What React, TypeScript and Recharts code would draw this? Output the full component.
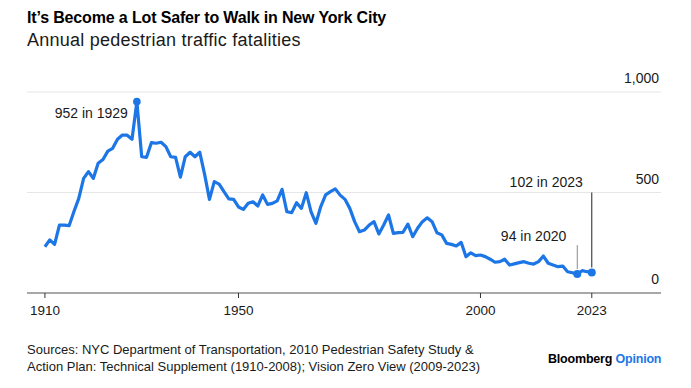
import { CartesianGrid, Line, LineChart, XAxis, YAxis } from "recharts";

// Annual pedestrian traffic fatalities in NYC, one array per decade
const FIRST_YEAR = 1910;
const fatalities1910s = [230, 264, 242, 338, 338, 335, 405, 471, 570, 604];
const fatalities1920s = [570, 645, 664, 706, 720, 765, 786, 785, 765, 952];
const fatalities1930s = [678, 675, 748, 745, 750, 728, 678, 675, 576, 678];
const fatalities1940s = [700, 678, 700, 590, 466, 554, 542, 504, 468, 466];
const fatalities1950s = [428, 416, 446, 454, 433, 488, 441, 446, 458, 516];
const fatalities1960s = [404, 400, 449, 421, 499, 404, 347, 430, 488, 504];
const fatalities1970s = [518, 487, 466, 421, 355, 305, 313, 338, 355, 294];
const fatalities1980s = [338, 388, 297, 300, 302, 343, 280, 322, 355, 374];
const fatalities1990s = [355, 300, 289, 247, 242, 234, 252, 181, 200, 186];
const fatalities2000s = [189, 181, 168, 153, 156, 168, 139, 145, 151, 156];
const fatalities2010s = [148, 144, 156, 184, 148, 139, 131, 134, 106, 101];
const fatalities2020s = [94, 111, 106, 102];

const yearTicks = [1910, 1950, 2000, 2023];
const valueTicks = [0, 500, 1000];
const notes = [
  { year: 1929, label: "952 in 1929" },
  { year: 2020, label: "94 in 2020" },
  { year: 2023, label: "102 in 2023" },
];

const allValues = [
  ...fatalities1910s, ...fatalities1920s, ...fatalities1930s, ...fatalities1940s,
  ...fatalities1950s, ...fatalities1960s, ...fatalities1970s, ...fatalities1980s,
  ...fatalities1990s, ...fatalities2000s, ...fatalities2010s, ...fatalities2020s,
];
const data = allValues.map((v, i) => ({ year: FIRST_YEAR + i, value: v }));

const BLUE = "#1c76e6";
const FONT = "'Liberation Sans', Arial, sans-serif";

function NoteDot(props: any) {
  const { cx, cy, payload } = props;
  const note = notes.find((n) => n.year === payload.year);
  if (!note) return <g key={`d${payload.year}`} />;
  const textStyle = { fontFamily: FONT, fontSize: 14, fill: "#1a1a1a" };
  if (note.year === 1929) {
    return (
      <g key={`d${payload.year}`}>
        <circle cx={cx} cy={cy} r={3.8} fill={BLUE} />
        <text x={cx - 9} y={cy + 16} textAnchor="end" style={textStyle}>{note.label}</text>
      </g>
    );
  }
  if (note.year === 2020) {
    return (
      <g key={`d${payload.year}`}>
        <line x1={cx} x2={cx} y1={cy - 29} y2={cy - 5} stroke="#8a8a8a" strokeWidth={1} />
        <circle cx={cx} cy={cy} r={4} fill={BLUE} />
        <text x={cx - 11} y={cy - 33} textAnchor="end" style={textStyle}>{note.label}</text>
      </g>
    );
  }
  return (
    <g key={`d${payload.year}`}>
      <line x1={cx} x2={cx} y1={cy - 80} y2={cy - 5} stroke="#222" strokeWidth={1} />
      <circle cx={cx} cy={cy} r={4} fill={BLUE} />
      <text x={cx - 9} y={cy - 85} textAnchor="end" style={textStyle}>{note.label}</text>
    </g>
  );
}

// right-hand value labels sit above their gridline, flush with its right end
function ValueTick(props: any) {
  const { y, payload } = props;
  const right = props.x - 2;
  return (
    <text x={right} y={y - 9} textAnchor="end" style={{ fontFamily: FONT, fontSize: 14, fill: "#1a1a1a" }}>
      {Number(payload.value).toLocaleString("en-US")}
    </text>
  );
}

export default function App() {
  return (
    <div style={{ position: "absolute", left: 0, top: 0, width: 691, height: 388, background: "#fff", fontFamily: FONT, color: "#111" }}>
      <LineChart width={691} height={388} data={data} margin={{ top: 92, right: 0, bottom: 65, left: 27 }}>
        <CartesianGrid vertical={false} stroke="#e6e6e6" />
        <XAxis
          dataKey="year"
          type="number"
          domain={[1906.3, 2037.3]}
          ticks={yearTicks}
          height={30}
          axisLine={{ stroke: "#8f8f8f", strokeWidth: 1.5 }}
          tickLine={{ stroke: "#333" }}
          tickSize={5}
          tickMargin={7}
          tick={{ fontFamily: FONT, fontSize: 13.5, fill: "#1a1a1a" }}
        />
        <YAxis
          orientation="right"
          width={30}
          domain={[0, 1000]}
          ticks={valueTicks}
          interval={0}
          axisLine={false}
          tickLine={false}
          tickSize={0}
          tickMargin={0}
          tick={(p: any) => <ValueTick key={`v${p.payload.value}`} {...p} />}
        />
        <Line
          type="linear"
          dataKey="value"
          stroke={BLUE}
          strokeWidth={3.2}
          strokeLinejoin="round"
          dot={NoteDot}
          activeDot={false}
          isAnimationActive={false}
        />
      </LineChart>
      <div style={{ position: "absolute", left: 27, top: 9, fontSize: 16, fontWeight: 700, letterSpacing: -0.15, color: "#000", whiteSpace: "nowrap" }}>
        It’s Become a Lot Safer to Walk in New York City
      </div>
      <div style={{ position: "absolute", left: 27, top: 30, fontSize: 18, letterSpacing: 0.25, color: "#1a1a1a", whiteSpace: "nowrap" }}>
        Annual pedestrian traffic fatalities
      </div>
      <div style={{ position: "absolute", left: 27, top: 341, fontSize: 13, lineHeight: "17px", color: "#1a1a1a", whiteSpace: "nowrap" }}>
        Sources: NYC Department of Transportation, 2010 Pedestrian Safety Study &amp;
        <br />
        Action Plan: Technical Supplement (1910-2008); Vision Zero View (2009-2023)
      </div>
      <div style={{ position: "absolute", left: 548, top: 352, fontSize: 12.5, fontWeight: 700, letterSpacing: -0.2, whiteSpace: "nowrap" }}>
        <span style={{ color: "#000" }}>Bloomberg</span> <span style={{ color: BLUE }}>Opinion</span>
      </div>
    </div>
  );
}
